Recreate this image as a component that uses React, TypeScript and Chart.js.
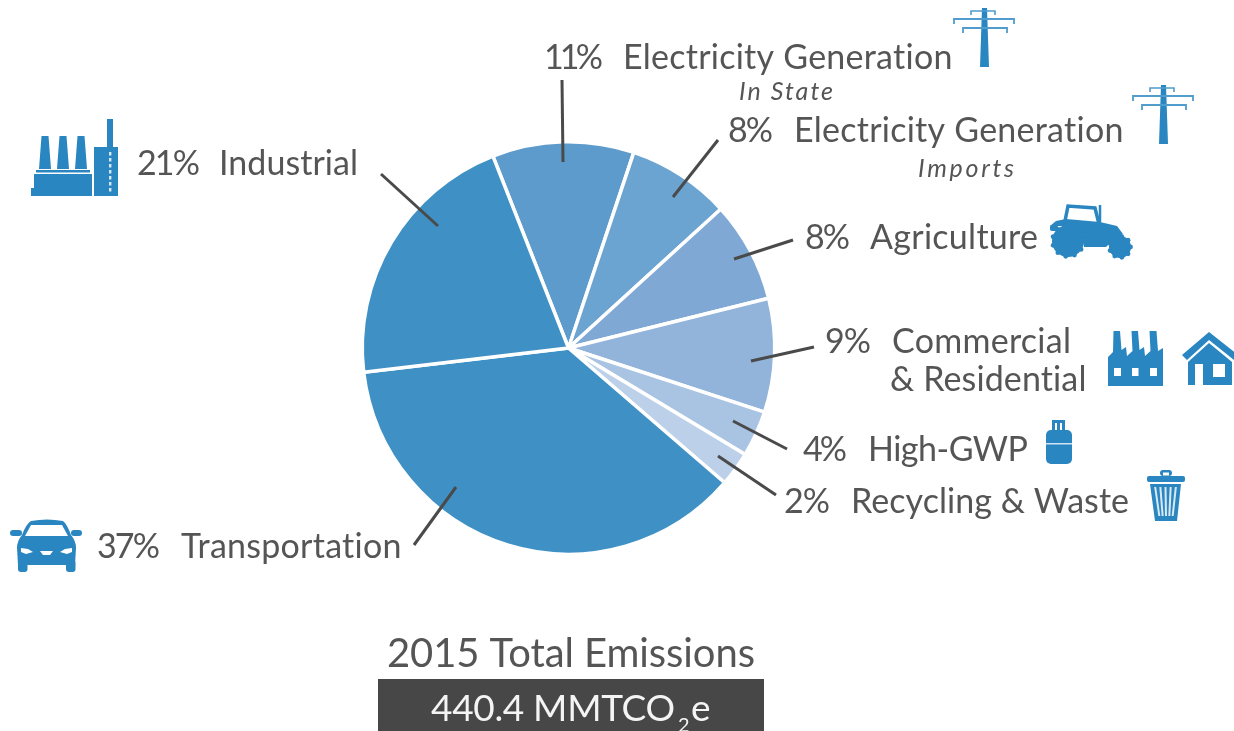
import React, { useEffect, useRef } from "react";
import { Chart, registerables } from "chart.js";

Chart.register(...registerables);

// Slice order runs clockwise from the boundary between Industrial and Electricity In State.
const categories = [
  "Electricity Generation In State",
  "Electricity Generation Imports",
  "Agriculture",
  "Commercial & Residential",
  "High-GWP",
  "Recycling & Waste",
  "Transportation",
  "Industrial",
];
// Printed percentages.
const printedPercent = [11, 8, 8, 9, 4, 2, 37, 21];
// Slice sizes.
const sliceShare = [11.1, 8.1, 7.9, 8.9, 3.6, 2.7, 36.8, 20.9];
const sliceColors = ["#5c9bcb", "#6ba3d1", "#7fa9d4", "#92b3da", "#a9c3e3", "#bcd0ea", "#3f91c5", "#3f91c5"];

const totalTitle = "2015 Total Emissions";
const totalValue = "440.4 MMTCO";

const INK = "#555555";
const BLUE = "#2a86c0";
const LIGHT = "#4f9ccd";
const LINE = "#4a4a4a";
const LATO = "Lato, 'Open Sans', sans-serif";

type Run = [string, number, number, number, string?];
// text, left, right, baseline, font modifier
const runs: Run[] = [
  [`${printedPercent[0]}%`, 544, 603, 69],
  ["Electricity Generation", 623, 953, 69],
  ["In State", 739, 833, 100, "italic"],
  [`${printedPercent[1]}%`, 728, 773, 142],
  ["Electricity Generation", 794, 1124, 142],
  ["Imports", 918, 1014, 177, "italic"],
  [`${printedPercent[2]}%`, 805, 850, 249],
  ["Agriculture", 870, 1038, 249],
  [`${printedPercent[3]}%`, 825, 871, 353],
  ["Commercial", 892, 1071, 353],
  ["& Residential", 890, 1087, 391],
  [`${printedPercent[4]}%`, 803, 847, 461],
  ["High-GWP", 868, 1028, 461],
  [`${printedPercent[5]}%`, 784, 830, 513],
  ["Recycling & Waste", 851, 1129, 513],
  [`${printedPercent[6]}%`, 97, 160, 558],
  ["Transportation", 181, 402, 558],
  [`${printedPercent[7]}%`, 137, 200, 175],
  ["Industrial", 219, 358, 175],
];

const leaders = [
  [562, 80, 563, 162],
  [718, 140, 673, 197],
  [793, 240, 734, 259],
  [814, 347, 751, 361],
  [787, 449, 733, 421],
  [776, 495, 718, 456],
  [414, 545, 456, 487],
  [381, 174, 438, 226],
];

function fitText(ctx: CanvasRenderingContext2D, text: string, left: number, right: number, base: number, font: string, color: string) {
  ctx.font = font;
  ctx.fillStyle = color;
  ctx.textAlign = "left";
  ctx.textBaseline = "alphabetic";
  (ctx as any).letterSpacing = "0px";
  const w = ctx.measureText(text).width;
  (ctx as any).letterSpacing = `${(right - left - w) / Math.max(1, text.length - 1)}px`;
  ctx.fillText(text, left, base);
  (ctx as any).letterSpacing = "0px";
}

function poly(ctx: CanvasRenderingContext2D, pts: number[], color: string) {
  ctx.fillStyle = color;
  ctx.beginPath();
  for (let i = 0; i < pts.length; i += 2) {
    if (i === 0) ctx.moveTo(pts[0], pts[1]);
    else ctx.lineTo(pts[i], pts[i + 1]);
  }
  ctx.closePath();
  ctx.fill();
}

function rect(ctx: CanvasRenderingContext2D, x: number, y: number, w: number, h: number, color: string, r = 0) {
  ctx.fillStyle = color;
  ctx.beginPath();
  ctx.roundRect(x, y, w, h, r);
  ctx.fill();
}

function seg(ctx: CanvasRenderingContext2D, pts: number[], color: string, width: number) {
  ctx.strokeStyle = color;
  ctx.lineWidth = width;
  ctx.beginPath();
  ctx.moveTo(pts[0], pts[1]);
  for (let i = 2; i < pts.length; i += 2) ctx.lineTo(pts[i], pts[i + 1]);
  ctx.stroke();
}

function tower(ctx: CanvasRenderingContext2D, dx: number, dy: number) {
  const L = (pts: number[], w = 1.6) =>
    seg(ctx, pts.map((v, i) => (i % 2 === 0 ? v + dx : v + dy)), LIGHT, w);
  poly(ctx, [982 + dx, 8 + dy, 987 + dx, 8 + dy, 989 + dx, 67 + dy, 980 + dx, 67 + dy], BLUE);
  L([971, 15, 971, 11, 995, 11, 995, 15]);
  L([954, 24, 954, 19, 1014, 19, 1014, 24], 1.8);
  L([963, 33, 963, 28, 1007, 28, 1007, 33], 1.8);
}

function industrialIcon(ctx: CanvasRenderingContext2D) {
  [41, 59, 77].forEach((x) => {
    poly(ctx, [x + 0.5, 136, x + 7.5, 136, x + 10, 169, x - 2, 169], BLUE);
    rect(ctx, x - 5, 170, 18, 2.5, BLUE);
  });
  rect(ctx, 34, 174, 58, 22, BLUE);
  rect(ctx, 31, 188, 5, 8, BLUE);
  rect(ctx, 94, 147, 24, 49, BLUE);
  rect(ctx, 107, 119, 6, 30, BLUE);
  for (let y = 152; y < 190; y += 6) rect(ctx, 109, y, 2.4, 3.5, "#d4e7f3");
}

function carIcon(ctx: CanvasRenderingContext2D) {
  ctx.fillStyle = BLUE;
  ctx.beginPath();
  ctx.moveTo(31, 521);
  ctx.quadraticCurveTo(47, 518, 63, 521);
  ctx.quadraticCurveTo(67, 524, 71, 535);
  ctx.quadraticCurveTo(76, 541, 76, 548);
  ctx.lineTo(75, 565);
  ctx.lineTo(18, 565);
  ctx.lineTo(17, 548);
  ctx.quadraticCurveTo(17, 541, 22, 535);
  ctx.quadraticCurveTo(26, 524, 31, 521);
  ctx.closePath();
  ctx.fill();
  rect(ctx, 10, 530, 12, 6, BLUE, 3);
  rect(ctx, 71, 530, 11, 6, BLUE, 3);
  rect(ctx, 18, 560, 9.5, 12, BLUE, 3);
  rect(ctx, 66, 560, 9.5, 12, BLUE, 3);
  poly(ctx, [31, 525, 62, 525, 68, 536, 25, 536], "#fff");
  poly(ctx, [21, 548, 28, 549, 33, 552, 26, 554, 21, 552], "#fff");
  poly(ctx, [72, 548, 65, 549, 60, 552, 67, 554, 72, 552], "#fff");
  poly(ctx, [40, 551, 53, 551, 50, 555, 43, 555], "#fff");
}

function gearWheel(ctx: CanvasRenderingContext2D, x: number, y: number, r: number, bumps: number) {
  ctx.fillStyle = BLUE;
  ctx.beginPath();
  ctx.arc(x, y, r - 1, 0, Math.PI * 2);
  ctx.fill();
  for (let i = 0; i < bumps; i++) {
    const a = (i / bumps) * Math.PI * 2;
    ctx.beginPath();
    ctx.arc(x + Math.cos(a) * (r - 1.5), y + Math.sin(a) * (r - 1.5), 2.4, 0, Math.PI * 2);
    ctx.fill();
  }
}

function tractorIcon(ctx: CanvasRenderingContext2D) {
  seg(ctx, [1065, 221, 1068, 206, 1095, 208, 1099, 224], BLUE, 3.5);
  seg(ctx, [1100, 205, 1100, 222], BLUE, 2.5);
  poly(ctx, [1050, 226, 1056, 221, 1066, 219, 1100, 222, 1117, 226, 1123, 234, 1112, 241, 1106, 247, 1084, 247, 1082, 232, 1068, 226], BLUE);
  rect(ctx, 1050, 225, 8, 6, BLUE, 2);
  gearWheel(ctx, 1068, 241, 17, 11);
  gearWheel(ctx, 1120, 247, 12, 9);
}

function commercialIcon(ctx: CanvasRenderingContext2D) {
  poly(ctx, [1113.5, 331, 1120, 331, 1121.5, 350, 1126, 347, 1127, 356, 1132.5, 351, 1131.5, 331, 1138, 331, 1139.5, 350, 1144, 347, 1145, 356, 1150.5, 351, 1149.5, 331, 1156.5, 331, 1158, 351, 1163, 348, 1163, 386, 1108, 386, 1108, 357, 1113, 352], BLUE);
  rect(ctx, 1114, 368, 7, 8, "#fff");
  rect(ctx, 1132, 368, 6.5, 8, "#fff");
  rect(ctx, 1150, 368, 7, 8, "#fff");
}

function houseIcon(ctx: CanvasRenderingContext2D) {
  poly(ctx, [1209, 332, 1237, 354, 1234, 360, 1209, 340, 1187, 360, 1182, 355], BLUE);
  poly(ctx, [1209, 343, 1232, 362, 1232, 385, 1188, 385, 1188, 362], BLUE);
  rect(ctx, 1195, 364, 8, 22, "#fff");
  rect(ctx, 1213, 364, 12, 13, "#fff");
}

function cylinderIcon(ctx: CanvasRenderingContext2D) {
  rect(ctx, 1052, 420, 13, 3, BLUE, 1);
  rect(ctx, 1052, 420, 3, 11, BLUE);
  rect(ctx, 1062, 420, 3, 11, BLUE);
  rect(ctx, 1057, 422, 3, 9, BLUE);
  rect(ctx, 1046, 430, 26, 34, BLUE, 5);
  rect(ctx, 1046, 443, 26, 1.5, "#cfe4f2");
}

function trashIcon(ctx: CanvasRenderingContext2D) {
  rect(ctx, 1160, 470, 12, 6, BLUE, 3);
  rect(ctx, 1163, 472.5, 6, 3, "#fff");
  rect(ctx, 1147, 476, 38, 6, BLUE, 2);
  poly(ctx, [1150, 484, 1181, 484, 1177, 521, 1155, 521], BLUE);
  for (let i = 0; i < 5; i++) {
    const t = (i + 1) / 6;
    const topX = 1150 + 31 * t;
    const botX = 1156 + 20 * t;
    poly(ctx, [topX - 1, 487, topX + 1, 487, botX + 1, 516, botX - 1, 516], "#d8e9f4");
  }
}

const decorations = {
  id: "decorations",
  afterDraw(chart: Chart) {
    const ctx = chart.ctx;
    ctx.save();
    ctx.lineCap = "butt";
    leaders.forEach(([a, b, c, d]) => seg(ctx, [a, b, c, d], LINE, 3));
    runs.forEach(([text, l, r, base, mod]) => {
      const font = mod === "italic" ? `italic 400 25px ${LATO}` : `400 34px ${LATO}`;
      fitText(ctx, text, l, r, base, font, INK);
    });
    fitText(ctx, totalTitle, 387, 755, 667, `400 40px ${LATO}`, INK);
    rect(ctx, 378, 679, 386, 52, "#474747");
    fitText(ctx, totalValue, 431, 675, 721, `400 37px ${LATO}`, "#f4f4f4");
    fitText(ctx, "2", 678, 688, 732, `400 20px ${LATO}`, "#f4f4f4");
    fitText(ctx, "e", 691, 710, 721, `400 37px ${LATO}`, "#f4f4f4");
    tower(ctx, 0, 0);
    tower(ctx, 179, 77);
    industrialIcon(ctx);
    carIcon(ctx);
    tractorIcon(ctx);
    commercialIcon(ctx);
    houseIcon(ctx);
    cylinderIcon(ctx);
    trashIcon(ctx);
    ctx.restore();
  },
};

export default function App() {
  const ref = useRef<HTMLCanvasElement>(null);
  useEffect(() => {
    if (!ref.current) return;
    const chart = new Chart(ref.current, {
      type: "pie",
      data: {
        labels: categories,
        datasets: [
          {
            data: sliceShare,
            backgroundColor: sliceColors,
            borderColor: "#ffffff",
            borderWidth: 3.5,
            borderAlign: "center",
          },
        ],
      },
      options: {
        responsive: false,
        animation: false,
        rotation: -21.5,
        layout: { padding: { left: 360, top: 140, right: 457, bottom: 175 } },
        plugins: { legend: { display: false }, tooltip: { enabled: false } },
      },
      plugins: [decorations],
    });
    return () => chart.destroy();
  }, []);
  return (
    <div style={{ position: "fixed", left: 0, top: 0, width: 1234, height: 731, background: "#fff", overflow: "hidden" }}>
      <canvas ref={ref} width={1234} height={731} style={{ display: "block", width: 1234, height: 731, filter: "blur(0.5px)" }} />
    </div>
  );
}
